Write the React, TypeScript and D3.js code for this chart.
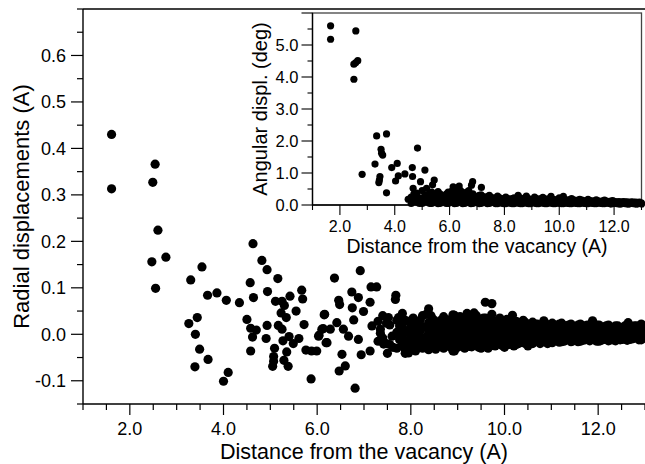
import React from 'react';
import * as d3 from 'd3';

const W = 645;
const H = 464;
const FONT = '"Liberation Sans", Arial, Helvetica, sans-serif';

// ---- tick labels ----
const mainXTicks = [2, 4, 6, 8, 10, 12];
const mainYTicks = [-0.1, 0, 0.1, 0.2, 0.3, 0.4, 0.5, 0.6];
const insetXTicks = [2, 4, 6, 8, 10, 12];
const insetYTicks = [0, 1, 2, 3, 4, 5];

// ---- radial displacements: scattered points (distance, displacement) ----
const radialScatter: [number, number][] = [
  [1.61, 0.43], [1.61, 0.313], [2.54, 0.366], [2.49, 0.327], [2.6, 0.224],
  [2.47, 0.156], [2.77, 0.166], [2.55, 0.099],
  [3.54, 0.145], [3.3, 0.117], [3.66, 0.084], [3.86, 0.089], [4.06, 0.073], [4.34, 0.068],
  [4.63, 0.195], [4.82, 0.159], [4.93, 0.139], [4.57, 0.111], [5.16, 0.12], [4.94, 0.092], [4.64, 0.079],
  [5.11, 0.071], [5.25, 0.071], [5.3, 0.062], [5.42, 0.082], [5.67, 0.095], [5.69, 0.076], [5.55, 0.05], [5.23, 0.046], [5.34, 0.036],
  [4.5, 0.032], [3.26, 0.023], [3.44, 0.036], [3.4, 0.0], [3.49, -0.032], [3.39, -0.07], [3.67, -0.054], [4.0, -0.101], [4.1, -0.082],
  [4.58, 0.013], [4.7, 0.009], [4.62, -0.006], [4.58, -0.036], [4.93, 0.019], [4.91, -0.009], [5.17, 0.019], [5.25, 0.011], [5.27, -0.014],
  [5.4, -0.005], [5.49, -0.02], [5.61, -0.009], [5.72, 0.021],
  [5.09, -0.03], [5.35, -0.038], [5.07, -0.048], [5.07, -0.058], [5.29, -0.056], [5.38, -0.069], [5.05, -0.069],
  [5.76, -0.034], [5.88, -0.036], [5.99, -0.036], [5.87, -0.096],
  [6.15, 0.042], [6.04, -0.002], [6.13, 0.012], [6.21, -0.018],
  [6.37, 0.121], [6.92, 0.137], [6.16, 0.043], [6.46, 0.073], [6.48, 0.064], [6.74, 0.091], [6.88, 0.079], [6.75, 0.057],
  [6.99, 0.049], [7.15, 0.102], [7.27, 0.102], [7.13, 0.069], [7.68, 0.084], [7.67, 0.075],
  [6.78, 0.031], [6.1, 0.011], [6.28, 0.011], [6.03, -0.004], [6.19, -0.018], [6.42, 0.025], [6.56, 0.011], [6.67, -0.004], [6.88, -0.011],
  [6.53, -0.043], [6.94, -0.044], [7.13, -0.036], [6.6, -0.068], [6.47, -0.079], [6.81, -0.116],
  [7.17, 0.018], [7.35, 0.011], [7.52, 0.036], [7.74, 0.036], [7.6, -0.004], [7.42, -0.021], [7.5, -0.041], [7.88, -0.041], [7.77, -0.004],
  [8.38, 0.055], [8.33, 0.043], [8.93, 0.041], [8.93, -0.036], [9.35, 0.046], [9.59, 0.069], [9.73, 0.066], [9.73, 0.043], [9.14, 0.032],
  [10.17, 0.041], [10.84, 0.029], [11.88, 0.029], [12.64, 0.025],
];

// ---- radial displacements: dense shells beyond 7 A (distance per shell, displacements in it) ----
const radialShellDist = [
  7.3, 7.4, 7.55, 7.7, 7.82, 7.95, 8.05, 8.15, 8.25, 8.38, 8.48, 8.58, 8.7, 8.8, 8.9, 9.0, 9.1, 9.2, 9.3, 9.4,
  9.5, 9.6, 9.7, 9.8, 9.9, 10.0, 10.1, 10.2, 10.3, 10.4, 10.5, 10.6, 10.7, 10.82, 10.92, 11.02, 11.12, 11.22, 11.32, 11.42,
  11.52, 11.62, 11.72, 11.82, 11.92, 12.02, 12.12, 12.22, 12.32, 12.42, 12.52, 12.62, 12.72, 12.82, 12.92, 13.0,
];
const radialShellDisp: number[][] = [
  [0.028, -0.015], [0.04, -0.008], [0.02, -0.022], [0.03, 0.004, -0.03],
  [0.045, 0.015, -0.005, -0.025], [0.028, 0.005, -0.018, -0.04], [0.035, 0.012, -0.01, -0.028], [0.022, 0.0, -0.02],
  [0.04, 0.015, -0.008, -0.03], [0.025, 0.003, -0.017, -0.033], [0.032, 0.01, -0.012, -0.026], [0.02, -0.002, -0.022],
  [0.038, 0.015, -0.006, -0.03], [0.025, 0.003, -0.018], [0.042, 0.018, -0.004, -0.024, -0.036], [0.03, 0.008, -0.012, -0.028],
  [0.035, 0.012, -0.008, -0.022], [0.045, 0.02, 0.0, -0.018], [0.03, 0.008, -0.012, -0.027], [0.04, 0.016, -0.005, -0.02],
  [0.025, 0.004, -0.015, -0.03], [0.035, 0.012, -0.008, -0.022], [0.02, 0.0, -0.018], [0.028, 0.006, -0.012, -0.025],
  [0.035, 0.014, -0.006, -0.02], [0.025, 0.004, -0.014, -0.028], [0.03, 0.01, -0.008, -0.022], [0.018, -0.002, -0.025],
  [0.024, 0.005, -0.012, -0.02], [0.03, 0.012, -0.006, -0.018], [0.02, 0.002, -0.015, -0.025], [0.026, 0.008, -0.008, -0.02],
  [0.022, 0.004, -0.012], [0.012, -0.004, -0.016], [0.02, 0.002, -0.012, -0.02], [0.024, 0.008, -0.006, -0.018],
  [0.018, 0.002, -0.013], [0.024, 0.008, -0.006, -0.016], [0.018, 0.0, -0.012], [0.022, 0.006, -0.008, -0.016],
  [0.016, 0.0, -0.012], [0.022, 0.007, -0.007, -0.015], [0.018, 0.002, -0.012], [0.012, -0.004, -0.014],
  [0.016, 0.0, -0.012], [0.02, 0.005, -0.008, -0.015], [0.016, 0.001, -0.011], [0.02, 0.006, -0.007, -0.014],
  [0.015, 0.0, -0.012], [0.018, 0.004, -0.008], [0.015, 0.001, -0.011], [0.01, -0.004, -0.013],
  [0.015, 0.0, -0.01], [0.018, 0.005, -0.007], [0.022, 0.008, -0.004, -0.012], [0.012, -0.002],
];
const radialShellDist2 = [
  7.35, 7.48, 7.62, 7.76, 7.88, 8.0, 8.1, 8.2, 8.32, 8.43, 8.53, 8.64, 8.75, 8.85, 8.95, 9.05, 9.15, 9.25, 9.35, 9.45,
  9.55, 9.65, 9.75, 9.85, 9.95, 10.05, 10.15, 10.25, 10.35, 10.45, 10.55, 10.65, 10.76, 10.87, 10.97, 11.07, 11.17, 11.27,
  11.37, 11.47, 11.57, 11.67, 11.77, 11.87, 11.97, 12.07, 12.17, 12.27, 12.37, 12.47, 12.57, 12.67, 12.77, 12.87, 12.96,
];
const radialShellDisp2: number[][] = [
  [0.002], [0.024, -0.02], [-0.028], [0.018, -0.012],
  [0.03, 0.008, -0.014, -0.032], [0.02, -0.002, -0.022], [0.028, 0.004, -0.018, -0.036], [0.03, 0.008, -0.013],
  [0.015, -0.006, -0.024], [0.04, 0.018, -0.004, -0.02], [0.026, 0.005, -0.015, -0.032], [0.03, 0.01, -0.012],
  [0.022, 0.0, -0.02], [0.032, 0.012, -0.008, -0.028], [0.025, 0.004, -0.016], [0.038, 0.016, -0.004, -0.02],
  [0.022, 0.0, -0.016, -0.03], [0.03, 0.01, -0.008, -0.026], [0.02, -0.002, -0.018], [0.028, 0.006, -0.012, -0.028],
  [0.035, 0.014, -0.006, -0.022], [0.026, 0.004, -0.014, -0.03], [0.03, 0.01, -0.008, -0.024], [0.02, 0.0, -0.016],
  [0.026, 0.006, -0.012, -0.024], [0.032, 0.012, -0.006, -0.02], [0.02, 0.001, -0.015], [0.028, 0.008, -0.01, -0.022],
  [0.018, 0.0, -0.014], [0.025, 0.006, -0.01, -0.02], [0.016, -0.002, -0.017], [0.022, 0.004, -0.012],
  [0.018, 0.0, -0.014, -0.02], [0.024, 0.006, -0.009], [0.016, -0.002, -0.016], [0.02, 0.004, -0.01],
  [0.022, 0.006, -0.008, -0.017], [0.014, -0.003, -0.015], [0.02, 0.004, -0.009], [0.016, 0.0, -0.014],
  [0.02, 0.005, -0.009, -0.016], [0.014, -0.002, -0.013], [0.02, 0.005, -0.008], [0.018, 0.002, -0.011],
  [0.02, 0.006, -0.008, -0.015], [0.013, -0.002, -0.013], [0.018, 0.004, -0.008], [0.014, 0.0, -0.012],
  [0.018, 0.004, -0.008, -0.014], [0.013, -0.002, -0.012], [0.018, 0.005, -0.007], [0.014, 0.0, -0.011],
  [0.018, 0.004, -0.008], [0.013, -0.002, -0.012], [0.018, 0.004, -0.008],
];

// ---- angular displacements (inset): scattered points ----
const angularScatter: [number, number][] = [
  [1.66, 5.6], [1.66, 5.18], [2.58, 5.44], [2.51, 4.4], [2.58, 4.45], [2.65, 4.51], [2.51, 3.93],
  [3.34, 2.16], [3.7, 2.22], [3.5, 1.74], [3.56, 1.56], [3.52, 1.62], [4.83, 1.78],
  [2.81, 0.96], [3.28, 1.28], [3.46, 0.89], [3.42, 0.7], [3.44, 0.78], [3.7, 0.38], [3.89, 1.17], [4.09, 1.3],
  [4.03, 0.75], [4.13, 0.91], [4.37, 0.97], [4.64, 1.17], [4.65, 0.89], [5.1, 1.09], [4.94, 0.73], [5.44, 0.78],
  [5.38, 0.63], [4.67, 0.52], [4.8, 0.37], [4.49, 0.18], [5.16, 0.52], [5.3, 0.38], [5.58, 0.42], [5.13, 0.16],
  [6.13, 0.57], [6.35, 0.59], [6.84, 0.73], [6.8, 0.62], [7.16, 0.55], [6.07, 0.4],
];

// ---- angular displacements (inset): dense shells ----
const angularShellDist = [
  4.6, 4.8, 5.0, 5.2, 5.35, 5.5, 5.65, 5.8, 5.95, 6.1, 6.25, 6.4, 6.55, 6.7, 6.85, 7.0, 7.15, 7.3, 7.45, 7.6,
  7.75, 7.9, 8.05, 8.2, 8.35, 8.5, 8.65, 8.8, 8.95, 9.1, 9.25, 9.4, 9.55, 9.7, 9.85, 10.0, 10.15, 10.3, 10.45, 10.6,
  10.75, 10.9, 11.05, 11.2, 11.35, 11.5, 11.65, 11.8, 11.95, 12.1, 12.25, 12.4, 12.55, 12.7, 12.85, 13.0,
];
const angularShellDisp: number[][] = [
  [0.05, 0.25], [0.1, 0.3], [0.05, 0.2, 0.45], [0.1, 0.3], [0.05, 0.22, 0.4], [0.08, 0.25], [0.05, 0.2, 0.35],
  [0.1, 0.28], [0.05, 0.18, 0.4], [0.08, 0.25, 0.45], [0.05, 0.18, 0.35, 0.5], [0.1, 0.28, 0.45], [0.05, 0.2, 0.38],
  [0.08, 0.25, 0.45], [0.05, 0.2, 0.35], [0.1, 0.25], [0.05, 0.18, 0.32], [0.08, 0.22], [0.05, 0.18, 0.3],
  [0.08, 0.2], [0.04, 0.15, 0.28], [0.06, 0.18], [0.04, 0.15, 0.25], [0.06, 0.18], [0.04, 0.14, 0.22],
  [0.06, 0.16, 0.3], [0.04, 0.15], [0.06, 0.18, 0.28], [0.04, 0.14], [0.06, 0.16, 0.25], [0.04, 0.14],
  [0.06, 0.16, 0.24], [0.04, 0.14], [0.06, 0.16, 0.27], [0.04, 0.13], [0.05, 0.15, 0.22], [0.04, 0.13, 0.27],
  [0.05, 0.14], [0.04, 0.12, 0.2], [0.05, 0.13], [0.04, 0.12, 0.18], [0.05, 0.12], [0.04, 0.11, 0.18],
  [0.05, 0.12], [0.04, 0.1, 0.16], [0.05, 0.11], [0.04, 0.1, 0.15], [0.05, 0.11], [0.04, 0.09, 0.14],
  [0.04, 0.1], [0.03, 0.09], [0.04, 0.1], [0.03, 0.08], [0.04, 0.09], [0.03, 0.08], [0.03, 0.07],
];
const angularShellDist2 = [
  4.7, 4.9, 5.1, 5.28, 5.43, 5.58, 5.73, 5.88, 6.03, 6.18, 6.33, 6.48, 6.63, 6.78, 6.93, 7.08, 7.23, 7.38, 7.53, 7.68,
  7.83, 7.98, 8.13, 8.28, 8.43, 8.58, 8.73, 8.88, 9.03, 9.18, 9.33, 9.48, 9.63, 9.78, 9.93, 10.08, 10.23, 10.38, 10.53,
  10.68, 10.83, 10.98, 11.13, 11.28, 11.43, 11.58, 11.73, 11.88, 12.03, 12.18, 12.33, 12.48, 12.63, 12.78, 12.93,
];
const angularShellDisp2: number[][] = [
  [0.12, 0.35], [0.05, 0.22], [0.12, 0.32], [0.05, 0.2], [0.12, 0.3], [0.04, 0.18, 0.32], [0.12, 0.26],
  [0.05, 0.2, 0.34], [0.12, 0.3], [0.04, 0.16, 0.3, 0.42], [0.1, 0.22, 0.38], [0.04, 0.16, 0.32], [0.12, 0.28, 0.4],
  [0.04, 0.16, 0.3], [0.12, 0.26], [0.04, 0.16, 0.3], [0.12, 0.26], [0.04, 0.14, 0.26], [0.12, 0.24],
  [0.04, 0.14, 0.22], [0.1, 0.22], [0.04, 0.12, 0.2], [0.1, 0.2], [0.04, 0.12, 0.2], [0.1, 0.2], [0.04, 0.12, 0.22],
  [0.1, 0.2], [0.04, 0.12, 0.2], [0.1, 0.18], [0.04, 0.12, 0.2], [0.1, 0.2], [0.04, 0.12, 0.19], [0.1, 0.2],
  [0.04, 0.12, 0.18], [0.1, 0.18], [0.04, 0.11, 0.19], [0.09, 0.17], [0.04, 0.1, 0.17], [0.09, 0.16],
  [0.04, 0.1, 0.15], [0.08, 0.15], [0.04, 0.09, 0.14], [0.08, 0.14], [0.04, 0.09, 0.13], [0.08, 0.13],
  [0.04, 0.08, 0.13], [0.07, 0.12], [0.03, 0.08, 0.12], [0.07, 0.11], [0.03, 0.07, 0.11], [0.06, 0.11],
  [0.03, 0.07, 0.1], [0.06, 0.1], [0.03, 0.06, 0.09], [0.05, 0.09],
];

function flattenShells(dist: number[], disp: number[][]): [number, number][] {
  const out: [number, number][] = [];
  dist.forEach((d, i) => (disp[i] || []).forEach((v) => out.push([d, v])));
  return out;
}

const fmt = (v: number) => v.toFixed(1);

export default function App() {
  const mx = d3.scaleLinear().domain([1, 13]).range([83, 645]);
  const my = d3.scaleLinear().domain([-0.15, 0.7]).range([404, 9]);
  const ix = d3.scaleLinear().domain([1, 13]).range([312.5, 641.5]);
  const iy = d3.scaleLinear().domain([0, 6]).range([205, 13]);

  const radialPts = radialScatter
    .concat(flattenShells(radialShellDist, radialShellDisp))
    .concat(flattenShells(radialShellDist2, radialShellDisp2));
  const angularPts = angularScatter
    .concat(flattenShells(angularShellDist, angularShellDisp))
    .concat(flattenShells(angularShellDist2, angularShellDisp2));

  const mxMinor = d3.range(1, 13.001, 0.5);
  const myMinor = d3.range(-0.15, 0.7001, 0.05);
  const ixMinor = d3.range(1, 13.001, 1);
  const iyMinor = d3.range(0, 6.001, 0.5);

  const [x0, x1] = mx.range();
  const [yb, yt] = my.range();
  const [ix0, ix1] = ix.range();
  const [iyb, iyt] = iy.range();

  return (
    <svg
      width={W}
      height={H}
      style={{ position: 'absolute', left: 0, top: 0, background: '#fff' }}
      fontFamily={FONT}
    >
      <rect x={0} y={0} width={W} height={H} fill="#fff" />
      {/* main frame */}
      <line x1={x0} x2={x1 + 2} y1={yt} y2={yt} stroke="#000" strokeWidth={1.6} />
      <line x1={x0} x2={x0} y1={yt} y2={yb} stroke="#000" strokeWidth={1.4} />
      <line x1={x0} x2={x1 + 2} y1={yb} y2={yb} stroke="#000" strokeWidth={1.4} />
      {/* main x ticks */}
      {mxMinor.map((t) => {
        const major = Math.abs(t - Math.round(t)) < 1e-6 && Math.round(t) % 2 === 0;
        return (
          <line key={'mxt' + t} x1={mx(t)} x2={mx(t)} y1={yb} y2={yb + (major ? 11 : 6)} stroke="#000" strokeWidth={1.2} />
        );
      })}
      {mainXTicks.map((t) => (
        <text key={'mxl' + t} x={mx(t)} y={435} fontSize={18} textAnchor="middle" fill="#000">
          {fmt(t)}
        </text>
      ))}
      {/* main y ticks */}
      {myMinor.map((t) => {
        const major = mainYTicks.some((m) => Math.abs(m - t) < 1e-6);
        return (
          <line key={'myt' + t} x1={x0 - (major ? 12 : 6)} x2={x0} y1={my(t)} y2={my(t)} stroke="#000" strokeWidth={1.2} />
        );
      })}
      {mainYTicks.map((t) => (
        <text key={'myl' + t} x={66} y={my(t)} dy="0.36em" fontSize={18} textAnchor="end" fill="#000">
          {fmt(t)}
        </text>
      ))}
      <text x={(x0 + x1) / 2} y={459} fontSize={21.5} textAnchor="middle" fill="#000">
        Distance from the vacancy (A)
      </text>
      <text
        transform={`translate(29,${(yt + yb) / 2}) rotate(-90)`}
        fontSize={22}
        textAnchor="middle"
        fill="#000"
      >
        Radial displacements (A)
      </text>
      {/* main points */}
      {radialPts.map(([d, v], i) => (
        <circle key={'rp' + i} cx={mx(d)} cy={my(v)} r={4.6} fill="#000" />
      ))}

      {/* inset */}
      <rect x={ix0} y={iyt} width={ix1 - ix0} height={iyb - iyt} fill="#fff" stroke="#444" strokeWidth={1.3} />
      <line x1={ix0} x2={ix0} y1={iyt} y2={iyb} stroke="#000" strokeWidth={1.3} />
      <line x1={ix0} x2={ix1} y1={iyb} y2={iyb} stroke="#000" strokeWidth={1.3} />
      {ixMinor.map((t) => {
        const major = Math.round(t) % 2 === 0;
        return (
          <line key={'ixt' + t} x1={ix(t)} x2={ix(t)} y1={iyb} y2={iyb + (major ? 10 : 5)} stroke="#000" strokeWidth={1.1} />
        );
      })}
      {insetXTicks.map((t) => (
        <text key={'ixl' + t} x={ix(t)} y={232} fontSize={16} textAnchor="middle" fill="#000">
          {fmt(t)}
        </text>
      ))}
      {iyMinor.map((t) => {
        const major = Math.abs(t - Math.round(t)) < 1e-6;
        return (
          <line key={'iyt' + t} x1={ix0 - (major ? 11 : 5)} x2={ix0} y1={iy(t)} y2={iy(t)} stroke="#000" strokeWidth={1.1} />
        );
      })}
      {insetYTicks.map((t) => (
        <text key={'iyl' + t} x={298.5} y={iy(t)} dy="0.36em" fontSize={16.5} textAnchor="end" fill="#000">
          {fmt(t)}
        </text>
      ))}
      <text x={(ix0 + ix1) / 2} y={253} fontSize={19.5} textAnchor="middle" fill="#000">
        Distance from the vacancy (A)
      </text>
      <text
        transform={`translate(267,${(iyt + iyb) / 2}) rotate(-90)`}
        fontSize={20}
        textAnchor="middle"
        fill="#000"
      >
        Angular displ. (deg)
      </text>
      {angularPts.map(([d, v], i) => (
        <circle key={'ap' + i} cx={ix(d)} cy={iy(v)} r={3.6} fill="#000" />
      ))}
    </svg>
  );
}
